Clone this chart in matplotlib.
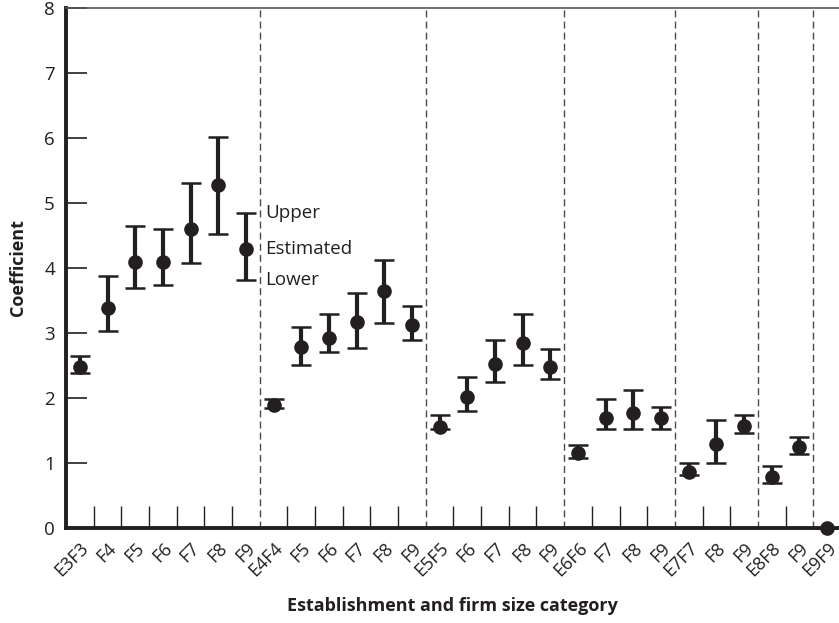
import numpy as np
import matplotlib.pyplot as plt

plt.rcParams['font.family'] = ['Open Sans', 'DejaVu Sans']

# establishment / firm size combinations
categories = ['E3F3', 'F4', 'F5', 'F6', 'F7', 'F8', 'F9',
              'E4F4', 'F5', 'F6', 'F7', 'F8', 'F9',
              'E5F5', 'F6', 'F7', 'F8', 'F9',
              'E6F6', 'F7', 'F8', 'F9',
              'E7F7', 'F8', 'F9',
              'E8F8', 'F9',
              'E9F9']

estimated = [2.47, 3.38, 4.10, 4.10, 4.60, 5.27, 4.30,
             1.89, 2.79, 2.93, 3.17, 3.64, 3.12,
             1.56, 2.02, 2.53, 2.85, 2.48,
             1.16, 1.69, 1.77, 1.69,
             0.86, 1.29, 1.57,
             0.79, 1.25,
             0.00]
upper = [2.64, 3.87, 4.65, 4.60, 5.31, 6.02, 4.84,
         1.99, 3.10, 3.29, 3.61, 4.13, 3.42,
         1.74, 2.32, 2.90, 3.29, 2.76,
         1.28, 1.99, 2.12, 1.86,
         1.00, 1.66, 1.74,
         0.95, 1.40,
         0.00]
lower = [2.39, 3.03, 3.69, 3.74, 4.07, 4.52, 3.82,
         1.84, 2.51, 2.71, 2.77, 3.15, 2.89,
         1.53, 1.80, 2.25, 2.51, 2.30,
         1.07, 1.53, 1.53, 1.53,
         0.82, 1.00, 1.46,
         0.69, 1.14,
         0.00]

# boundaries between establishment groups
group_edges = [7, 13, 18, 22, 25, 27]

ink = '#231f20'
est = np.array(estimated)
err = np.vstack([est - np.array(lower), np.array(upper) - est])
x = np.arange(len(categories)) + 0.5

fig = plt.figure(figsize=(8.39, 6.23), dpi=100)
ax = fig.add_axes([66 / 839, 1 - 528 / 623, 1 - 66 / 839, 520 / 623])

ax.errorbar(x, est, yerr=err, fmt='o', color=ink, ms=9.5, elinewidth=3.0,
            capsize=7.5, capthick=1.8, clip_on=False, zorder=5)

for e in group_edges:
    ax.axvline(e, color='#4a4a4a', lw=1.0, ls=(0, (5, 3)), zorder=1)

ax.set_xlim(0, 27.93)
ax.set_ylim(0, 8)

ax.set_yticks(range(9))
ax.tick_params(axis='y', direction='in', length=15, width=1.2, color=ink,
               labelsize=13.5, pad=8, labelcolor=ink)

ax.set_xticks(x)
ax.set_xticklabels(categories, rotation=45, ha='right', va='top',
                   rotation_mode='anchor', fontsize=13, color=ink)
ax.tick_params(axis='x', which='major', length=0, pad=8)
minor = [b for b in range(1, 28) if b not in group_edges]
ax.set_xticks(minor, minor=True)
ax.tick_params(axis='x', which='minor', direction='in', length=16,
               width=1.0, color=ink)

for side in ['left', 'bottom']:
    ax.spines[side].set_linewidth(2.8)
    ax.spines[side].set_color(ink)
ax.spines['top'].set_linewidth(1.2)
ax.spines['top'].set_color('#555555')
ax.spines['right'].set_visible(False)

# legend text beside the last bar of the first group
for label, val in zip(['Upper', 'Estimated', 'Lower'],
                      [upper[6], estimated[6], lower[6]]):
    ax.text(7.2, val, label, fontsize=13.5, va='center', ha='left', color=ink)

ax.set_ylabel('Coefficient', fontsize=13, fontweight='bold', color=ink,
              labelpad=12)
ax.set_xlabel('Establishment and firm size category', fontsize=13,
              fontweight='bold', color=ink, labelpad=12)

fig.savefig('out.png', dpi=100)
